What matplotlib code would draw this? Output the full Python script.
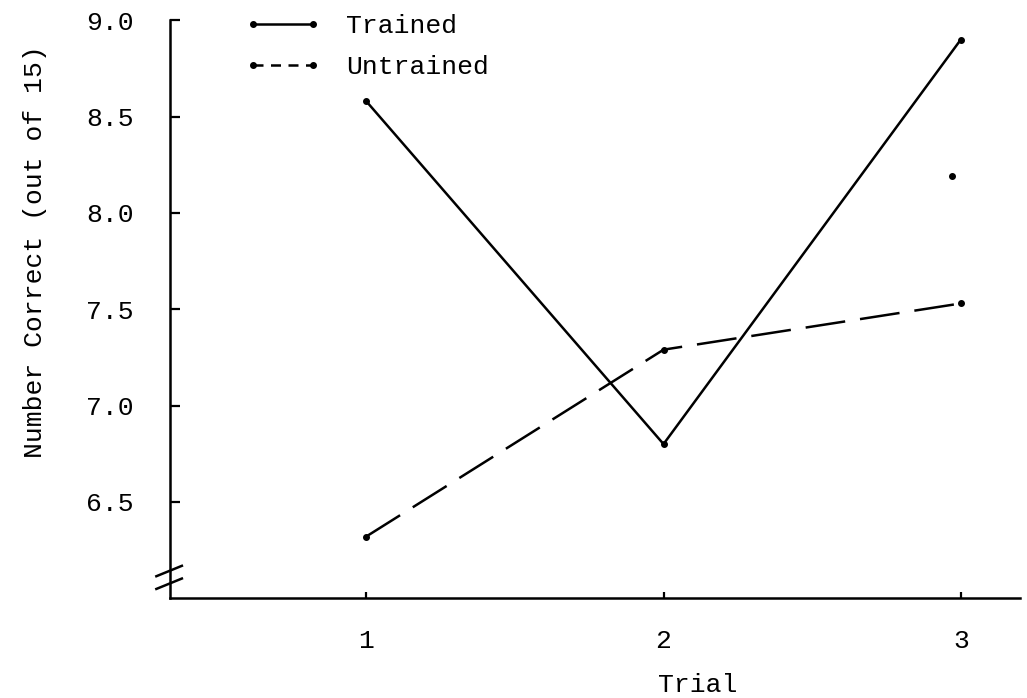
import numpy as np
import matplotlib.pyplot as plt
from matplotlib.lines import Line2D

plt.rcParams['font.family'] = ['Liberation Mono', 'DejaVu Sans Mono']

# datos
trial = [1, 2, 3]
trained = [8.58, 6.80, 8.90]
untrained = [6.32, 7.29, 7.53]
# punto suelto que aparece cerca del ensayo 3
stray_x = [2.97]
stray_y = [8.19]

fig = plt.figure(figsize=(10.27, 6.98), dpi=100)
ax = fig.add_axes([0.1655, 0.143, 0.828, 0.828])

ax.plot(trial, trained, color='k', lw=1.8, marker='o', ms=4)
ax.plot(trial, untrained, color='k', lw=1.8, marker='o', ms=4,
        linestyle=(0, (16, 6)))
ax.plot(stray_x, stray_y, 'ko', ms=4)

ax.set_xlim(0.34, 3.2)
ax.set_ylim(6.0, 9.0)
ax.set_xticks(trial)
ax.set_yticks([6.5, 7.0, 7.5, 8.0, 8.5, 9.0])
ax.set_yticklabels(['6.5', '7.0', '7.5', '8.0', '8.5', '9.0'])

for s in ['top', 'right']:
    ax.spines[s].set_visible(False)
for s in ['left', 'bottom']:
    ax.spines[s].set_linewidth(1.8)

ax.tick_params(axis='y', direction='in', length=7, width=1.6, pad=26, labelsize=19)
ax.tick_params(axis='x', direction='in', length=4, width=1.6, pad=22, labelsize=19)

ax.set_xlabel('Trial', fontsize=19)
ax.set_ylabel('Number Correct (out of 15)', fontsize=19)
ax.xaxis.set_label_coords(0.62, -0.13)
ax.yaxis.set_label_coords(-0.145, 0.60)

# marcas de corte del eje y
for yb in [0.047, 0.025]:
    ax.plot([-0.016, 0.014], [yb - 0.009, yb + 0.009], transform=ax.transAxes,
            color='k', lw=1.8, clip_on=False)

h1 = Line2D([], [], color='k', lw=1.8, marker='o', ms=4)
h2 = Line2D([], [], color='k', lw=1.8, marker='o', ms=4, linestyle=(0, (4, 3)))
ax.legend([h1, h2], ['Trained', 'Untrained'], loc='upper left',
          bbox_to_anchor=(0.06, 1.052), frameon=False, numpoints=2,
          handlelength=2.9, handletextpad=0.95, labelspacing=0.65, fontsize=19)

fig.savefig('out.png', dpi=100)
